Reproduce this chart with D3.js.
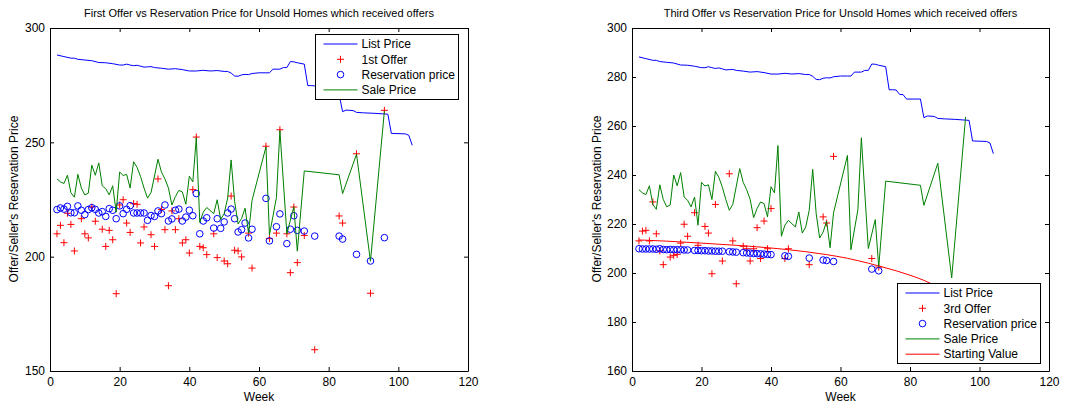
<!DOCTYPE html>
<html>
<head>
<meta charset="utf-8">
<script src="https://cdn.jsdelivr.net/npm/d3@7"></script>
<style>
  body { margin: 0; background: #fff; }
  svg text { font-family: "Liberation Sans", Arial, sans-serif; fill: #000; }
</style>
</head>
<body>
<svg id="chart" width="1081" height="408"></svg>
<script>
// --- data (weeks / prices in $1000s) ---
var xTicks = [0, 20, 40, 60, 80, 100, 120];
var yTicksLeft = [150, 200, 250, 300];
var yTicksRight = [160, 180, 200, 220, 240, 260, 280, 300];

var listWeeks = [2,4,6,7,8,10,12,14,16,18,20,21,22,23,24,25,26,27,28,29,30,32,34,36,38,40,42,44,46,48,50,51,52,53,54,55,56,57,58,60,62,63,64,66,67,68,69,70,71,73,74,75,76,77,78,79,83,84,85,87,88,90,93,97,98,102,103,104];
var listPrice = [288.2,287.5,286.8,286.8,286.3,286,285.7,284.9,284.8,284.4,283.8,283.8,284.2,283.8,283.5,283.7,283.3,282.9,283,283.1,282.7,282.4,282,282.2,281.8,281.2,281.2,281.5,281.2,281.4,281,281,280.3,279,278.9,279.5,279.7,279.6,280.1,280.4,280.4,280.4,282,282,282.7,282.7,285.3,285.2,284.8,284.2,274.8,274.8,274.7,272.9,272.8,271,271,263.4,264.1,263.9,263.1,262.9,262.7,262.3,253.9,253.7,253.1,248.7];

var saleWeeks = [2,3,4,5,6,7,8,9,10,11,12,13,14,15,16,17,18,19,20,21,22,23,24,25,26,27,28,29,31,32,33,34,35,36,37,38,39,40,41,42,43,44,45,47,48,49,50,51,52,53,54,55,56,57,58,62,63,65,66,68,70,71,73,83,84,88,92,96];
var salePrice = [234,232.7,232,235.6,228,226,236,230,227,227.8,240,235.6,241,231,229.7,227,231,219.5,237,235.5,236,230,241.5,239,235,230,225.6,228,242.6,237,234,230,222.6,226.3,229,228.3,222.9,235.2,232.7,252,215,219.5,221.5,218.8,224.9,216.3,218.8,225.6,242.3,224.2,214.3,216.7,221.2,210.3,224.6,248,209.5,225.8,255.2,210,221.8,202.4,237.5,235.8,227.6,244.8,198,263.7];

var offer1Weeks = [2,3,4,5,6,7,9,10,11,12,13,15,16,17,18,19,20,21,22,23,24,25,26,27,29,30,31,32,33,34,35,36,37,38,39,40,41,42,43,44,45,47,48,50,51,52,53,54,55,57,58,62,63,65,66,68,69,70,71,73,76,83,84,88,92,96];
var offer1 = [210,213.7,206.1,219,214.1,202.5,216.6,210,208.2,221.7,215.5,212,204.5,211.5,207.4,183.8,222.6,224.9,214.7,210.6,223.2,222.9,206,213,209.6,204.5,234,220.6,211.8,187.3,220,211.8,216.6,206,207.4,201.6,229.3,252.3,204.5,203.9,200.9,210,199.6,198.1,196.9,226.5,202.8,202.5,199.9,210.3,195,248.3,207.9,210.3,255.5,210,193,221.7,197.4,209.3,159.3,217.8,214.7,245,184,264];

var res1Weeks = [2,3,4,5,6,7,8,9,10,11,12,13,14,15,16,17,18,19,20,21,22,23,24,25,26,27,28,29,30,31,32,33,34,35,36,37,38,39,40,41,42,43,44,45,47,48,49,50,51,52,53,54,55,56,57,58,62,63,65,66,68,69,70,71,73,76,83,84,88,92,96];
var res1 = [220.6,221.3,220.8,222,219.2,219.2,222.2,220.3,218.4,220.6,221.4,220.7,219.1,219.7,217.6,221,220.3,216.6,222.2,218.8,220.7,222.3,219.1,219.1,219.1,219.1,215.9,218,217.6,220,218.8,222.6,215.6,216.5,220.3,220.8,215.6,217.3,220.3,217.9,227.6,210,215.6,217,212.5,216.6,212.4,215.2,219.1,220.8,216.6,210.8,211.8,214.7,208.2,212,225.5,206.9,213.1,218.7,205.7,212,217.9,211.5,211.2,209,209,207.7,201,198.1,208.3];

var offer3Weeks = [2,3,4,5,6,7,8,9,11,12,13,14,15,16,18,19,21,22,23,24,26,28,29,30,32,33,34,35,36,37,38,39,40,44,45,51,55,56,58,69,71];
var offer3 = [213.1,217.1,217.4,213.1,229,216,209,203.4,206.5,207.2,207.6,212.2,219.9,215,224.6,211.3,219,216.3,199.7,228,204.9,240.5,213.1,195.6,210.9,209.9,204.9,209.9,218.5,205.9,221.2,209.9,226.3,205.9,209.9,203.4,222.9,220.4,247.6,205.9,202.4];

var res3Weeks = [2,3,4,5,6,7,8,9,10,11,12,13,14,15,16,18,19,20,21,22,23,24,25,26,28,29,30,32,33,34,35,36,37,38,39,40,44,45,51,55,56,58,69,71];
var res3 = [209.9,209.8,209.8,209.8,209.8,209.7,209.9,209.6,209.5,209.6,209.5,209.5,209.5,209.4,209.4,209.2,209.2,209.1,209.1,209,209,208.9,208.9,208.9,208.7,208.6,208.5,208.3,208.2,208.1,208,207.9,207.8,207.7,207.6,207.5,207,206.8,206.1,205.3,205.1,204.7,201.6,200.9];

var startWeeks = [2,10,20,30,40,50,56,62,68,72,76,80,84,88,92];
var startValue = [213.5,213,212.2,211.3,210.2,208.7,207.5,206,204,202.5,200.9,199.1,197,194.3,191.2];

var zip = function(xs, ys) { return xs.map(function(w, i) { return [w, ys[i]]; }); };

var svg = d3.select("#chart");

function drawPanel(opt)
{
    var x = d3.scaleLinear().domain([0, 120]).range([opt.left, opt.right]);
    var y = d3.scaleLinear().domain(opt.yDomain).range([371, 28]);

    var g = svg.append("g");

    // box + inward ticks on all four sides
    g.append("g").attr("transform", "translate(0,371)")
      .call(d3.axisBottom(x).tickValues(xTicks).tickSize(-4).tickSizeOuter(0).tickPadding(6));
    g.append("g").attr("transform", "translate(0,28)")
      .call(d3.axisTop(x).tickValues(xTicks).tickSize(-4).tickSizeOuter(0).tickFormat(""));
    g.append("g").attr("transform", "translate(" + opt.left + ",0)")
      .call(d3.axisLeft(y).tickValues(opt.yTicks).tickSize(-4).tickSizeOuter(0).tickPadding(5));
    g.append("g").attr("transform", "translate(" + opt.right + ",0)")
      .call(d3.axisRight(y).tickValues(opt.yTicks).tickSize(-4).tickSizeOuter(0).tickFormat(""));
    g.selectAll(".tick text").style("font-size", "12px");
    g.selectAll(".domain, .tick line").attr("stroke", "#000");

    var line = d3.line().x(d => x(d[0])).y(d => y(d[1]));

    g.append("path").datum(zip(listWeeks, listPrice))
      .attr("d", line).attr("fill", "none").attr("stroke", "#0000ff").attr("stroke-width", 1);

    g.selectAll(".plus").data(zip(opt.offerWeeks, opt.offers)).enter()
      .append("path").attr("class", "plus")
      .attr("d", d => { var px = x(d[0]), py = y(d[1]); return "M" + (px - 3.5) + "," + py + "h7M" + px + "," + (py - 3.5) + "v7"; })
      .attr("stroke", "#ff0000").attr("stroke-width", 1).attr("fill", "none");

    g.selectAll(".res").data(zip(opt.resWeeks, opt.res)).enter()
      .append("circle").attr("class", "res")
      .attr("cx", d => x(d[0])).attr("cy", d => y(d[1])).attr("r", 3.3)
      .attr("fill", "none").attr("stroke", "#0000ff").attr("stroke-width", 1);

    g.append("path").datum(zip(saleWeeks, salePrice))
      .attr("d", line).attr("fill", "none").attr("stroke", "#008000").attr("stroke-width", 1);

    if (opt.withStart) {
        g.append("path").datum(zip(startWeeks, startValue))
          .attr("d", d3.line().curve(d3.curveMonotoneX).x(d => x(d[0])).y(d => y(d[1])))
          .attr("fill", "none").attr("stroke", "#ff0000").attr("stroke-width", 1);
    }

    // labels
    var cx = (opt.left + opt.right) / 2;
    g.append("text").attr("x", cx).attr("y", 17).attr("text-anchor", "middle")
      .style("font-size", "11px").text(opt.title);
    g.append("text").attr("x", cx).attr("y", 401).attr("text-anchor", "middle")
      .style("font-size", "12px").text("Week");
    g.append("text").attr("transform", "translate(" + opt.ylabelX + ",199) rotate(-90)")
      .attr("text-anchor", "middle").style("font-size", "12px")
      .text("Offer/Seller's Reservation Price");

    // legend
    var lg = opt.legend;
    var leg = g.append("g").attr("transform", "translate(" + lg.x + "," + lg.y + ")");
    leg.append("rect").attr("width", lg.w).attr("height", lg.h)
      .attr("fill", "#fff").attr("stroke", "#000").attr("stroke-width", 1);
    lg.items.forEach(function(it, i) {
        var ry = 9.5 + i * 15.3;
        if (it.type == "line") {
            leg.append("line").attr("x1", 8).attr("x2", 42).attr("y1", ry).attr("y2", ry)
              .attr("stroke", it.color).attr("stroke-width", 1);
        } else if (it.type == "plus") {
            leg.append("path").attr("d", "M21.5," + ry + "h7M25," + (ry - 3.5) + "v7")
              .attr("stroke", it.color).attr("fill", "none");
        } else {
            leg.append("circle").attr("cx", 25).attr("cy", ry).attr("r", 3.3)
              .attr("stroke", it.color).attr("fill", "none");
        }
        leg.append("text").attr("x", 46).attr("y", ry).attr("dy", "0.35em")
          .style("font-size", "12px").text(it.label);
    });
}

drawPanel({
    left: 50, right: 468, yDomain: [150, 300], yTicks: yTicksLeft,
    offerWeeks: offer1Weeks, offers: offer1, resWeeks: res1Weeks, res: res1,
    withStart: false, ylabelX: 18,
    title: "First Offer vs Reservation Price for Unsold Homes which received offers",
    legend: { x: 315.5, y: 34.5, w: 143, h: 65, items: [
        {type: "line", color: "#0000ff", label: "List Price"},
        {type: "plus", color: "#ff0000", label: "1st Offer"},
        {type: "circle", color: "#0000ff", label: "Reservation price"},
        {type: "line", color: "#008000", label: "Sale Price"}
    ]}
});

drawPanel({
    left: 632, right: 1049, yDomain: [160, 300], yTicks: yTicksRight,
    offerWeeks: offer3Weeks, offers: offer3, resWeeks: res3Weeks, res: res3,
    withStart: true, ylabelX: 601,
    title: "Third Offer vs Reservation Price for Unsold Homes which received offers",
    legend: { x: 897.5, y: 283.5, w: 143, h: 80, items: [
        {type: "line", color: "#0000ff", label: "List Price"},
        {type: "plus", color: "#ff0000", label: "3rd Offer"},
        {type: "circle", color: "#0000ff", label: "Reservation price"},
        {type: "line", color: "#008000", label: "Sale Price"},
        {type: "line", color: "#ff0000", label: "Starting Value"}
    ]}
});
</script>
</body>
</html>
